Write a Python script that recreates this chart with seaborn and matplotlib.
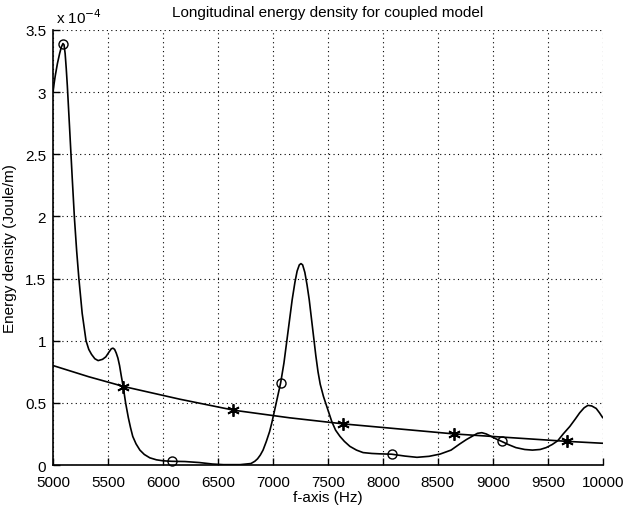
import numpy as np
import pandas as pd
import matplotlib
matplotlib.use("Agg")
import matplotlib.pyplot as plt
import seaborn as sns

# Oscillating curve (energy density, units of 1e-4 J/m)
freq_a = [5000, 5010, 5020, 5040, 5060, 5075, 5090, 5100, 5110, 5120, 5130, 5150,
          5175, 5195, 5215, 5235, 5265, 5300, 5325, 5350, 5380, 5410, 5450, 5480,
          5510, 5530, 5545, 5560, 5575, 5590, 5605, 5620, 5640, 5660, 5685, 5705,
          5725, 5755, 5790, 5830, 5880, 5940, 6000, 6080, 6200, 6330, 6450, 6550,
          6700, 6800, 6835, 6860, 6885, 6910, 6940, 6970, 6990, 7015, 7040, 7070,
          7100, 7125, 7150, 7175, 7200, 7220, 7240, 7255, 7270, 7290, 7310, 7330,
          7350, 7370, 7390, 7410, 7430, 7460, 7490, 7535, 7570, 7610, 7650, 7700,
          7760, 7820, 7900, 7970, 8080, 8200, 8310, 8420, 8520, 8620, 8700, 8760,
          8820, 8860, 8900, 8940, 8985, 9030, 9080, 9140, 9210, 9290, 9360, 9430,
          9485, 9540, 9590, 9640, 9700, 9750, 9790, 9830, 9865, 9900, 9940, 9970,
          10000]
energy_a = [3.00, 3.07, 3.13, 3.23, 3.31, 3.36, 3.39, 3.38, 3.31, 3.19, 3.05, 2.72,
            2.30, 1.98, 1.72, 1.50, 1.22, 1.00, 0.93, 0.89, 0.855, 0.84, 0.85, 0.87,
            0.91, 0.935, 0.94, 0.93, 0.90, 0.86, 0.80, 0.72, 0.62, 0.50, 0.38, 0.30,
            0.23, 0.17, 0.12, 0.085, 0.058, 0.042, 0.034, 0.030, 0.028, 0.020, 0.008, 0.003,
            0.003, 0.012, 0.030, 0.05, 0.08, 0.12, 0.19, 0.27, 0.34, 0.44, 0.54, 0.66,
            0.82, 0.99, 1.16, 1.33, 1.47, 1.56, 1.61, 1.62, 1.61, 1.55, 1.45, 1.33,
            1.18, 1.03, 0.88, 0.75, 0.65, 0.55, 0.47, 0.35, 0.28, 0.23, 0.19, 0.15,
            0.12, 0.10, 0.093, 0.09, 0.087, 0.072, 0.062, 0.070, 0.088, 0.12, 0.17, 0.205,
            0.235, 0.255, 0.26, 0.25, 0.23, 0.21, 0.19, 0.165, 0.14, 0.125, 0.12, 0.125,
            0.14, 0.165, 0.195, 0.25, 0.31, 0.37, 0.42, 0.46, 0.48, 0.475, 0.455, 0.42,
            0.38]

# Smooth decreasing curve
freq_b = [5000, 5325, 5650, 6150, 6650, 7150, 7650, 8150, 8650, 9165, 9680, 10000]
energy_b = [0.80, 0.71, 0.63, 0.53, 0.44, 0.38, 0.33, 0.29, 0.25, 0.22, 0.19, 0.175]

# Marker points
circ_f = [5090, 6080, 7070, 8080, 9080]
circ_e = [3.39, 0.030, 0.66, 0.087, 0.19]
star_f = [5640, 6640, 7640, 8650, 9670]
star_e = [0.63, 0.44, 0.33, 0.25, 0.19]

xticks = [5000, 5500, 6000, 6500, 7000, 7500, 8000, 8500, 9000, 9500, 10000]
yticks = [0, 0.5, 1, 1.5, 2, 2.5, 3, 3.5]

sns.set_theme(style="white")
plt.rcParams['font.family'] = ['Liberation Sans', 'DejaVu Sans']

fig = plt.figure(figsize=(6.24, 5.06), dpi=100)
ax = fig.add_axes([0.085, 0.079, 0.881, 0.860])

dfa = pd.DataFrame({"f": freq_a, "e": energy_a})
dfb = pd.DataFrame({"f": freq_b, "e": energy_b})
sns.lineplot(data=dfa, x="f", y="e", color="black", lw=1.2, sort=False, ax=ax)
sns.lineplot(data=dfb, x="f", y="e", color="black", lw=1.2, sort=False, ax=ax)
ax.plot(circ_f, circ_e, linestyle="none", marker="o", ms=6.5, mfc="none",
        mec="black", mew=1.0, clip_on=False)
ax.plot(star_f, star_e, linestyle="none", marker=(6, 2, 0), ms=9,
        mec="black", mew=1.3, clip_on=False)

ax.set_xlim(5000, 10000)
ax.set_ylim(0, 3.5)
ax.set_xticks(xticks)
ax.set_yticks(yticks)
ax.set_xticklabels([str(t) for t in xticks])
ax.set_yticklabels(["0", "0.5", "1", "1.5", "2", "2.5", "3", "3.5"])
ax.grid(True, linestyle=(0, (1, 3)), color="black", lw=0.8)
for s in ["top", "right"]:
    ax.spines[s].set_visible(False)
for s in ["left", "bottom"]:
    ax.spines[s].set_color("black")
    ax.spines[s].set_linewidth(1.2)
ax.tick_params(direction="in", length=5, width=1, color="black",
               labelsize=11, labelcolor="black",
               bottom=True, left=True)
ax.tick_params(axis="x", pad=7)
ax.tick_params(axis="y", pad=5)

ax.set_xlabel("f-axis (Hz)", fontsize=11, color="black", labelpad=1)
ax.set_ylabel("Energy density (Joule/m)", fontsize=11, color="black", labelpad=6)
ax.set_title("Longitudinal energy density for coupled model", fontsize=11,
             color="black", pad=10)
ax.text(0.006, 1.008, r"x 10$^{-4}$", transform=ax.transAxes, fontsize=11,
        color="black", ha="left", va="bottom")

fig.savefig("out.png", dpi=100, facecolor="white")
